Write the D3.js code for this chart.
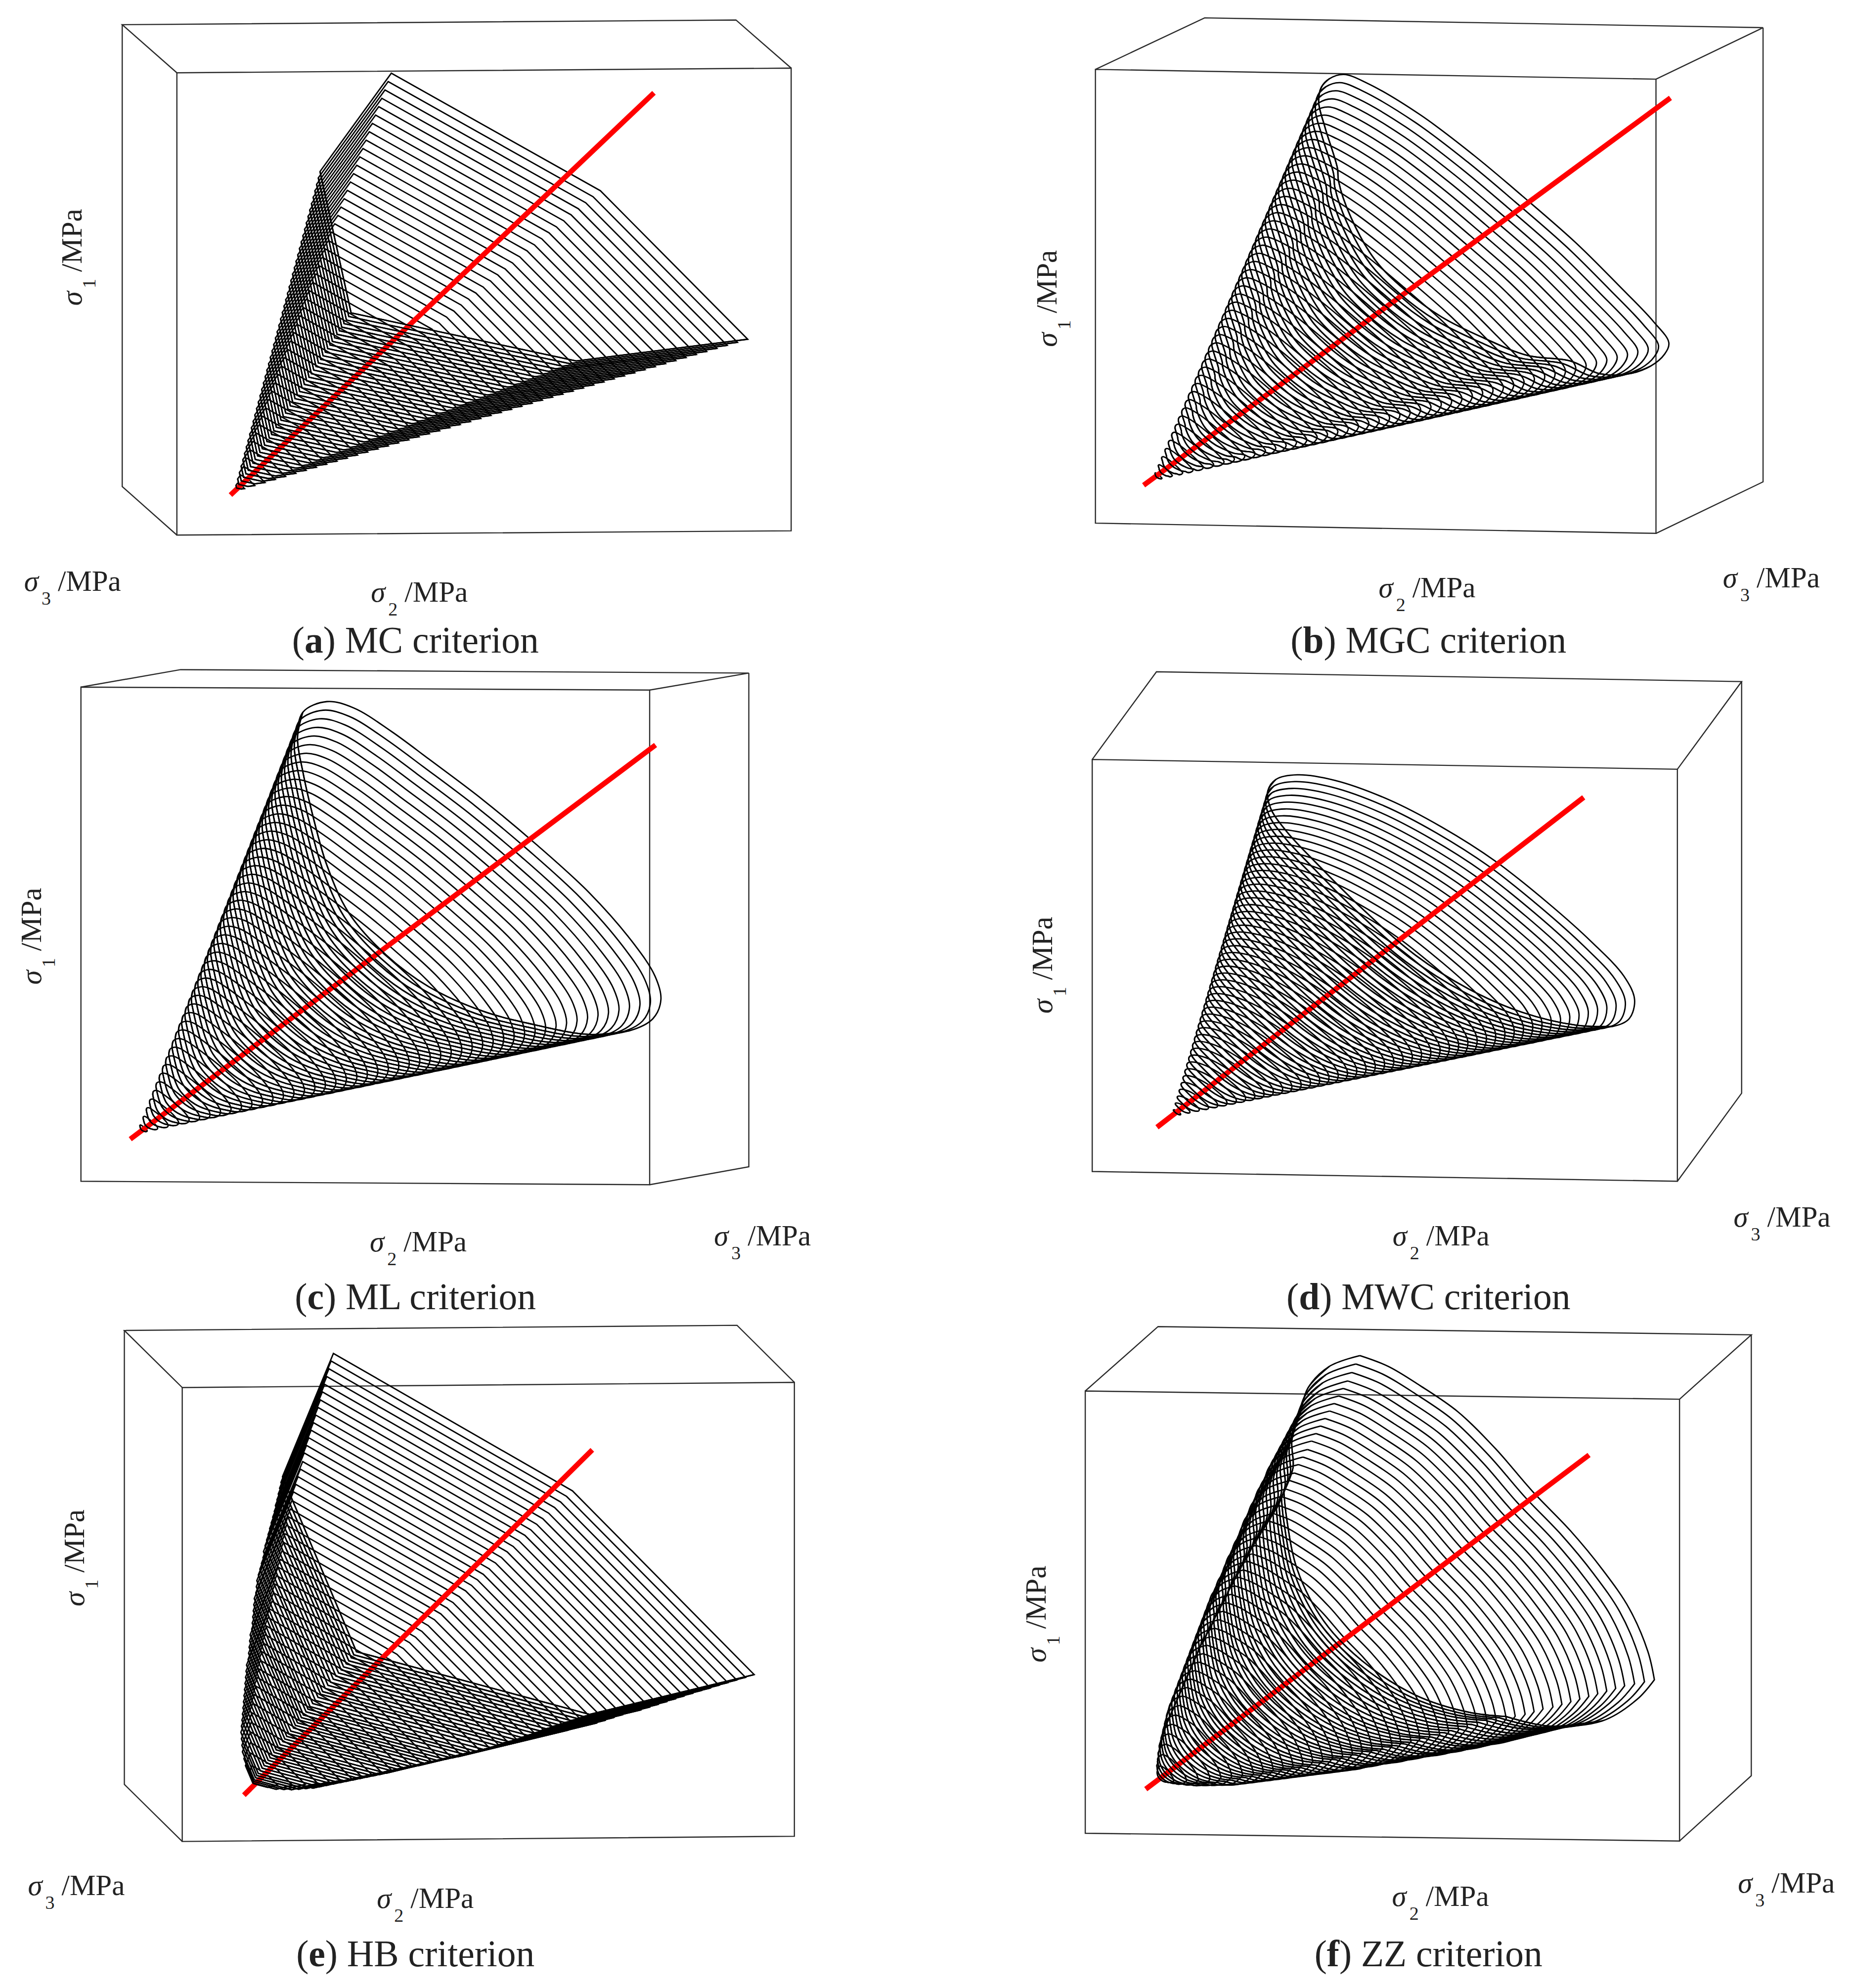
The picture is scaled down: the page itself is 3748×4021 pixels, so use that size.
<!DOCTYPE html>
<html>
<head>
<meta charset="utf-8">
<script src="https://cdn.jsdelivr.net/npm/d3@7"></script>
<style>
body { margin: 0; background: #fff; }
svg { display: block; }
text { font-family: "Liberation Serif", serif; fill: #222; }
</style>
</head>
<body>
<svg></svg>
<script>
var letters = ['a', 'b', 'c', 'd', 'e', 'f'];
var names = ['MC', 'MGC', 'ML', 'MWC', 'HB', 'ZZ'];

// section position along the hydrostatic axis, apex to far end
var sliceT = [0.02, 0.04, 0.06, 0.08, 0.10, 0.12, 0.14, 0.16, 0.18, 0.20,
    0.22, 0.24, 0.26, 0.28, 0.30, 0.32, 0.34, 0.36, 0.38, 0.40,
    0.42, 0.44, 0.46, 0.48, 0.50, 0.52, 0.54, 0.56, 0.58, 0.60,
    0.62, 0.64, 0.66, 0.68, 0.70, 0.72, 0.74, 0.76, 0.78, 0.80,
    0.82, 0.84, 0.86, 0.88, 0.90, 0.92, 0.94, 0.96, 0.98, 1.00];
var scaleHB = [0.06, 0.10, 0.13, 0.16, 0.185, 0.21, 0.235, 0.255, 0.275, 0.295,
    0.315, 0.335, 0.355, 0.375, 0.395, 0.415, 0.435, 0.455, 0.47, 0.49,
    0.51, 0.53, 0.55, 0.565, 0.585, 0.605, 0.625, 0.645, 0.665, 0.68,
    0.70, 0.72, 0.735, 0.75, 0.765, 0.78, 0.80, 0.815, 0.83, 0.845,
    0.86, 0.875, 0.89, 0.905, 0.922, 0.937, 0.953, 0.969, 0.985, 1.00];
var scaleZZ = [0.045, 0.08, 0.11, 0.14, 0.165, 0.19, 0.215, 0.24, 0.26, 0.28,
    0.30, 0.32, 0.34, 0.36, 0.38, 0.40, 0.42, 0.44, 0.46, 0.48,
    0.50, 0.52, 0.535, 0.555, 0.57, 0.59, 0.61, 0.625, 0.645, 0.66,
    0.68, 0.70, 0.715, 0.735, 0.75, 0.77, 0.785, 0.80, 0.82, 0.835,
    0.85, 0.865, 0.88, 0.895, 0.91, 0.925, 0.94, 0.96, 0.98, 1.00];

// largest section of each surface, clockwise from the top
var outlineA = [[730, 172], [1120, 448], [1395, 797], [1075, 848], [655, 735], [597, 403]];
var outlineB = [[617, 175], [660, 195], [760, 270], [860, 365], [950, 460], [1050, 570], [1130, 670],
    [1195, 755], [1224, 805], [1216, 832], [1190, 860], [1150, 878], [1095, 878], [1040, 848],
    [960, 835], [880, 795], [800, 745], [730, 680], [675, 610], [630, 510], [607, 425], [605, 395],
    [582, 300], [570, 240], [575, 205], [590, 185]];
var outlineC = [[610, 115], [660, 130], [730, 185], [800, 250], [900, 345], [1000, 450], [1100, 565],
    [1180, 680], [1222, 760], [1233, 815], [1218, 860], [1175, 888], [1100, 897], [1000, 875],
    [900, 842], [800, 785], [720, 710], [650, 610], [610, 500], [585, 390], [565, 280], [555, 200], [565, 140]];
var outlineD = [[530, 287], [600, 300], [700, 345], [800, 410], [900, 490], [1000, 590], [1080, 680],
    [1140, 760], [1160, 815], [1150, 860], [1120, 878], [1050, 875], [950, 845], [850, 790],
    [750, 710], [650, 600], [570, 500], [510, 420], [480, 365], [475, 325], [490, 298]];
var outlineE = [[622, 100], [1068, 418], [1407, 843], [1100, 935], [665, 790], [527, 385]];
// doubled points keep the sharp corners of this section
var outlineF = [[647, 105], [647, 105], [700, 130], [760, 175], [830, 235], [900, 320], [970, 420], [1040, 510],
    [1100, 600], [1150, 690], [1185, 790], [1197, 855], [1197, 855], [1165, 900], [1100, 950], [1000, 962],
    [920, 940], [920, 940], [850, 930], [750, 890], [650, 810], [580, 720], [530, 600], [510, 480], [505, 420],
    [505, 420], [522, 365], [520, 300], [535, 240], [550, 180], [590, 130]];

// reference axis of each panel: apex, section centre, red line ends
var apexes = [[437, 1155], [258, 1130], [255, 1130], [295, 1090], [479, 1092], [272, 1085]];
var centres = [[900, 560], [800, 600], [800, 600], [700, 600], [910, 560], [845, 550]];
var redLines = [[[430, 1163], [1220, 218]], [[243, 1140], [1227, 230]], [[243, 1143], [1223, 217]],
    [[268, 1115], [1065, 340]], [[455, 1122], [1105, 323]], [[247, 1108], [1075, 335]]];

// box: front face corners, then the visible back edges
var boxFront = [[[330, 171], [1476, 160], [1476, 1247], [330, 1257]],
    [[153, 163], [1200, 186], [1200, 1253], [153, 1229]],
    [[151, 81], [1212, 88], [1212, 1250], [151, 1242]],
    [[147, 251], [1240, 274], [1240, 1242], [147, 1219]],
    [[340, 179], [1482, 167], [1482, 1217], [340, 1229]],
    [[134, 187], [1244, 206], [1244, 1228], [134, 1210]]];
var boxBack = [[[[330, 171], [228, 58], [1373, 47], [1476, 160]], [[228, 58], [228, 1143], [330, 1257]]],
    [[[153, 163], [357, 42], [1400, 65], [1200, 186]], [[1400, 65], [1400, 1132], [1200, 1253]]],
    [[[151, 81], [337, 40], [1397, 48], [1212, 88]], [[1397, 48], [1397, 1208], [1212, 1250]]],
    [[[147, 251], [267, 45], [1360, 68], [1240, 274]], [[1360, 68], [1360, 1035], [1240, 1242]]],
    [[[340, 179], [232, 47], [1375, 35], [1482, 167]], [[232, 47], [232, 1097], [340, 1229]]],
    [[[134, 187], [270, 38], [1378, 57], [1244, 206]], [[1378, 57], [1378, 1077], [1244, 1228]]]];

var w = 3748, h = 4021;
var svg = d3.select('svg').attr('width', w).attr('height', h);

// each panel is read in a 0-1568 frame laid over its part of the page
var frames = [[0, 0, 1700, 1350], [2050, 0, 1698, 1350], [0, 1320, 1700, 1350],
    [2050, 1320, 1698, 1350], [0, 2650, 1700, 1371], [2050, 2650, 1698, 1371]];
var sigma3At = [[45, 1388], [1325, 1380], [1332, 1393], [1345, 1348], [52, 1353], [1353, 1347]];
var sigma2At = [[692, 1413], [682, 1403], [690, 1406], [708, 1393], [703, 1383], [707, 1378]];
var sigma1At = [[152, 718], [80, 815], [77, 780], [72, 848], [157, 685], [60, 815]];
var captionY = [1533, 1533, 1543, 1543, 1518, 1518];

var outlines = [outlineA, outlineB, outlineC, outlineD, outlineE, outlineF];
var sizes = [sliceT, sliceT, sliceT, sliceT, scaleHB, scaleZZ];
var curves = [d3.curveLinear, d3.curveCatmullRom, d3.curveCatmullRom, d3.curveCatmullRom, d3.curveLinear, d3.curveCatmullRom];
var closedCurves = [d3.curveLinearClosed, d3.curveCatmullRomClosed, d3.curveCatmullRomClosed,
    d3.curveCatmullRomClosed, d3.curveLinearClosed, d3.curveCatmullRomClosed];
// index where the part of a section lying in front of the red line begins
var frontFrom = [2, 10, 11, 10, 2, 14];

letters.forEach(function (letter, i) {
    var f = frames[i];
    var x = d3.scaleLinear().domain([0, 1568]).range([f[0], f[0] + f[2]]);
    var y = d3.scaleLinear().domain([0, 1568]).range([f[1], f[1] + f[3]]);
    var g = svg.append('g').attr('class', 'panel-' + letter);

    var boxLine = d3.line().x(d => x(d[0])).y(d => y(d[1]));
    g.append('path')
        .attr('d', boxLine.curve(d3.curveLinearClosed)(boxFront[i]))
        .attr('fill', 'none').attr('stroke', '#2a2a2a').attr('stroke-width', 2.4);
    boxBack[i].forEach(function (edge) {
        g.append('path')
            .attr('d', boxLine.curve(d3.curveLinear)(edge))
            .attr('fill', 'none').attr('stroke', '#2a2a2a').attr('stroke-width', 2.4);
    });

    var apex = apexes[i], centre = centres[i], outline = outlines[i];
    function section(t, s, pts) {
        return pts.map(function (p) {
            return [apex[0] + t * (centre[0] - apex[0]) + s * (p[0] - centre[0]),
                apex[1] + t * (centre[1] - apex[1]) + s * (p[1] - centre[1])];
        });
    }
    var line = d3.line().x(d => x(d[0])).y(d => y(d[1]));

    g.selectAll('path.section')
        .data(sliceT)
        .enter()
        .append('path')
        .attr('class', 'section')
        .attr('d', (t, k) => line.curve(closedCurves[i])(section(t, sizes[i][k], outline)))
        .attr('fill', 'none').attr('stroke', '#000').attr('stroke-width', 2.8);

    g.append('path')
        .attr('d', line.curve(d3.curveLinear)(redLines[i]))
        .attr('stroke', '#f00').attr('stroke-width', 10.5).attr('fill', 'none');

    var front = outline.slice(frontFrom[i]);
    g.selectAll('path.front')
        .data(sliceT)
        .enter()
        .append('path')
        .attr('class', 'front')
        .attr('d', (t, k) => line.curve(curves[i])(section(t, sizes[i][k], front)))
        .attr('fill', 'none').attr('stroke', '#000').attr('stroke-width', 2.8);

    function axisLabel(parent, num) {
        var text = parent.append('text').attr('font-size', 59);
        text.append('tspan').attr('font-style', 'italic').text('σ');
        text.append('tspan').attr('font-size', 38).attr('dx', 6).attr('dy', 28).text(num);
        text.append('tspan').attr('dx', 14).attr('dy', -28).text('/MPa');
    }
    axisLabel(g.append('g').attr('transform', 'translate(' + x(sigma3At[i][0]) + ',' + y(sigma3At[i][1]) + ')'), '3');
    axisLabel(g.append('g').attr('transform', 'translate(' + x(sigma2At[i][0]) + ',' + y(sigma2At[i][1]) + ')'), '2');
    axisLabel(g.append('g').attr('transform', 'translate(' + x(sigma1At[i][0]) + ',' + y(sigma1At[i][1]) + ') rotate(-90)'), '1');

    var cap = g.append('text')
        .attr('x', x(775)).attr('y', y(captionY[i]))
        .attr('text-anchor', 'middle').attr('font-size', 75.5);
    cap.append('tspan').text('(');
    cap.append('tspan').attr('font-weight', 'bold').text(letter);
    cap.append('tspan').text(') ' + names[i] + ' criterion');
});
</script>
</body>
</html>
